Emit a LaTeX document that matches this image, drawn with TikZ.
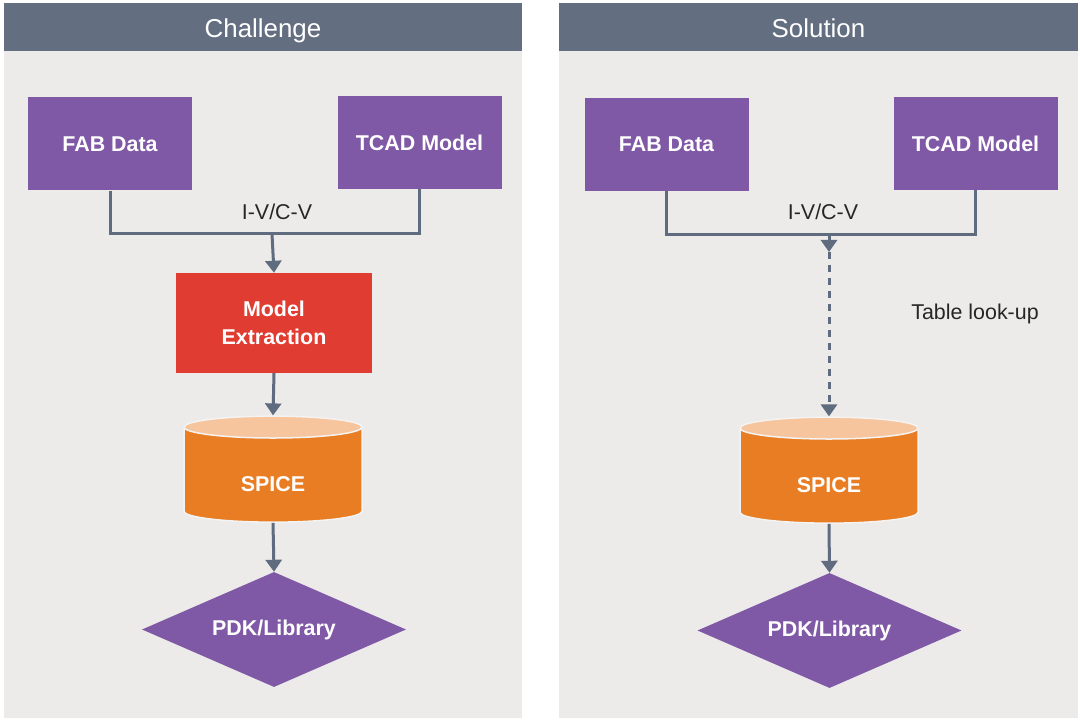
\documentclass[tikz,border=0pt]{standalone}
\usepackage{fontspec}
\setmainfont{Liberation Sans}
\usetikzlibrary{shapes.geometric,arrows.meta}
\definecolor{slate}{HTML}{646E81}
\definecolor{panelbg}{HTML}{ECEBE9}
\definecolor{violetbox}{HTML}{7F58A6}
\definecolor{redbox}{HTML}{E03C31}
\definecolor{orangebody}{HTML}{E87D24}
\definecolor{peachtop}{HTML}{F6C59E}
\definecolor{linec}{HTML}{5F6B7E}
\definecolor{textc}{HTML}{262626}
\begin{document}
\begin{tikzpicture}[x=1bp,y=1bp,
  box/.style={fill=violetbox, text=white, font=\bfseries\fontsize{21.5}{28}\selectfont, minimum width=164bp, minimum height=93bp, inner sep=0pt},
  db/.style={cylinder, shape border rotate=90, aspect=0.34, minimum width=178bp, minimum height=106bp, cylinder uses custom fill, cylinder body fill=orangebody, cylinder end fill=peachtop, draw=panelbg!60!white, line width=1.5bp, text=white, font=\bfseries\fontsize{21.5}{28}\selectfont, inner sep=0pt},
  pdk/.style={diamond, aspect=2.3, minimum width=264bp, minimum height=115bp, fill=violetbox, text=white, font=\bfseries\fontsize{21.5}{28}\selectfont, inner sep=0pt},
  head/.style={fill=slate, text=white, font=\fontsize{26}{30}\selectfont, minimum height=48bp, text height=23bp, text depth=1bp, inner sep=0pt},
  txt/.style={text=textc, font=\fontsize{21.5}{26}\selectfont},
  link/.style={draw=linec, line width=3bp},
  arr/.style={draw=linec, line width=3bp, -{Triangle[length=12bp,width=16bp]}}]
 \useasboundingbox (0,0) rectangle (1080,720);
 \fill[white] (0,0) rectangle (1080,720);

 % panels
 \fill[panelbg] (4,2) rectangle (522,717);
 \fill[panelbg] (559,2) rectangle (1078,717);
 \node[head, minimum width=518bp] (head1) at (263,693) {Challenge};
 \node[head, minimum width=519bp] (head2) at (818.5,693) {Solution};

 % challenge
 \node[box] (fab1) at (110,576) {FAB Data};
 \node[box] (tcad1) at (419.5,577.5) {TCAD Model};
 \coordinate (j1) at (272,486);
 \node[txt] (iv1) at (277,508) {I-V/C-V};
 \node[fill=redbox, text=white, font=\bfseries\fontsize{21.5}{28}\selectfont, align=center, minimum width=196bp, minimum height=100bp, inner sep=0pt] (extract) at (274,397) {Model\\Extraction};
 \node[db] (spice1) at (273,245) {\smash{\raisebox{-16.5bp}{SPICE}}};
 \node[pdk] (lib1) at (274,90.5) {PDK/Library};

 \draw[link] (fab1.south) |- (j1) -| (tcad1.south);
 \draw[arr] (j1) -- (extract.north);
 \draw[arr] (extract.south) -- (spice1.north);
 \draw[arr] (spice1.south) -- (lib1.north);

 % solution
 \node[box] (fab2) at (666.5,575.5) {FAB Data};
 \node[box] (tcad2) at (975.5,576.5) {TCAD Model};
 \coordinate (j2) at (829,485);
 \coordinate (k2) at (829,468);
 \node[txt] (iv2) at (823,508) {I-V/C-V};
 \node[txt] (lookup) at (975,406) {Table look-up};
 \node[db] (spice2) at (829,244) {\smash{\raisebox{-16.5bp}{SPICE}}};
 \node[pdk] (lib2) at (829.5,89.5) {PDK/Library};

 \draw[link] (fab2.south) |- (j2) -| (tcad2.south);
 \draw[arr] (j2) -- (k2);
 \draw[arr, dash pattern=on 7bp off 6bp] (k2) -- (spice2.north);
 \draw[arr] (spice2.south) -- (lib2.north);
\end{tikzpicture}
\end{document}
